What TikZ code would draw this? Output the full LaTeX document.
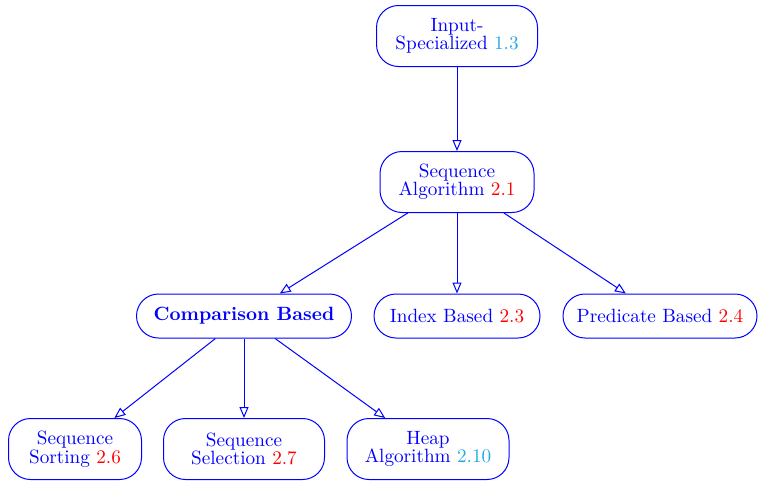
\documentclass[tikz,border=0pt]{standalone}
\usetikzlibrary{arrows.meta, positioning}
\definecolor{cblue}{RGB}{0,0,255}
\definecolor{cref}{RGB}{255,0,0}
\definecolor{csky}{HTML}{23A8E0}
\tikzset{
  every picture/.style={line width=0.5pt},
  algo/.style={draw=cblue, text=cblue, rounded corners=11pt, align=center,
    inner xsep=3pt, inner ysep=2pt, minimum height=22pt,
    font=\fontsize{9.6}{9.2}\selectfont},
  algo2/.style={algo, minimum height=30.5pt},
  link/.style={-{Triangle[open, length=5.5pt, width=4.5pt]}, draw=cblue},
}
\newcommand{\sref}[1]{{\color{cref}#1}}
\newcommand{\lref}[1]{{\color{csky}#1}}

\begin{document}
\begin{tikzpicture}[x=0.5pt, y=-0.5pt]
  \useasboundingbox (0,0) rectangle (758,482);

  % top
  \node[algo2, minimum width=80.5pt] (inp) at (457,36) {Input-\\Specialized \lref{1.3}};
  \node[algo2, minimum width=77pt] (seqalg) at (457,182) {Sequence\\Algorithm \sref{2.1}};

  % middle row
  \node[algo, minimum width=107.5pt] (cmp) at (244,316) {\textbf{Comparison Based}};
  \node[algo, minimum width=83pt] (idx) at (457,316) {Index Based \sref{2.3}};
  \node[algo, minimum width=97pt] (pred) at (660,316) {Predicate Based \sref{2.4}};

  % bottom row
  \node[algo2, minimum width=66.5pt] (sort) at (75,449) {Sequence\\Sorting \sref{2.6}};
  \node[algo2, minimum width=80.5pt] (sel) at (244,449) {Sequence\\Selection \sref{2.7}};
  \node[algo2, minimum width=81pt] (heap) at (428,449) {Heap\\Algorithm \lref{2.10}};

  \draw[link] (inp) -- (seqalg);
  \foreach \k in {cmp, idx, pred} \draw[link] (seqalg) -- (\k);
  \foreach \k in {sort, sel, heap} \draw[link] (cmp) -- (\k);
\end{tikzpicture}
\end{document}
